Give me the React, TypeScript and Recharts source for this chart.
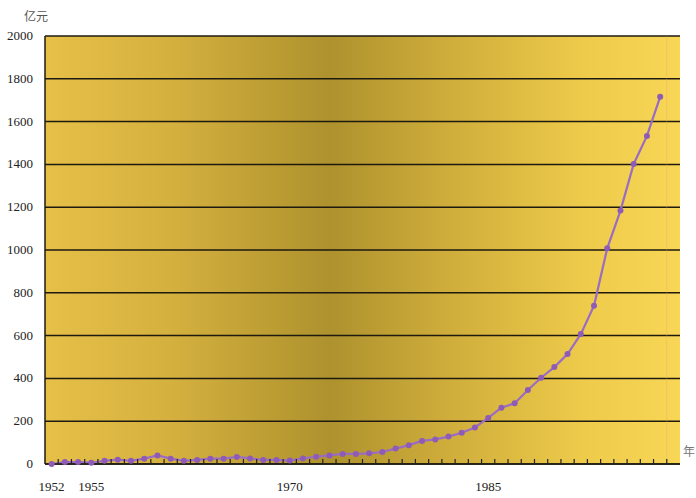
import React from "react";
import {
  LineChart,
  Line,
  XAxis,
  YAxis,
  CartesianGrid,
  ReferenceLine,
} from "recharts";

const years = [
  1952, 1953, 1954, 1955, 1956, 1957, 1958, 1959, 1960, 1961, 1962, 1963,
  1964, 1965, 1966, 1967, 1968, 1969, 1970, 1971, 1972, 1973, 1974, 1975,
  1976, 1977, 1978, 1979, 1980, 1981, 1982, 1983, 1984, 1985, 1986, 1987,
  1988, 1989, 1990, 1991, 1992, 1993, 1994, 1995, 1996, 1997, 1998,
];

const values = [
  0, 9, 9, 6, 15, 20, 15, 25, 40, 25, 15, 19, 25, 25, 33, 26, 19, 19, 16, 26,
  34, 40, 47, 47, 50, 56, 72, 88, 108, 115, 128, 146, 171, 215, 263, 284, 346,
  403, 453, 514, 607, 740, 1008, 1184, 1402, 1533, 1716,
];

const labelYears = [1952, 1955, 1970, 1985];
const yTicks = [0, 200, 400, 600, 800, 1000, 1200, 1400, 1600, 1800, 2000];

const data = years.map((year, i) => ({ year, value: values[i] }));

// tick marks sit between the yearly points
const boundaryTicks = years.map((y) => y + 0.5);
const xTicks = [...boundaryTicks, ...labelYears];

const serif = "'Liberation Serif', 'DejaVu Serif', serif";

function XTick(props: any) {
  const { x, y, payload } = props;
  if (labelYears.includes(payload.value)) {
    return (
      <text
        x={x}
        y={y + 27}
        textAnchor="middle"
        fontFamily={serif}
        fontSize={13}
        fill="#222"
      >
        {payload.value}
      </text>
    );
  }
  return <line x1={x} x2={x} y1={y} y2={y - 5} stroke="#222" strokeWidth={1.2} />;
}

function YTick(props: any) {
  const { x, y, payload } = props;
  return (
    <text
      x={x}
      y={y}
      dy={4}
      textAnchor="end"
      fontFamily={serif}
      fontSize={13}
      fill="#222"
    >
      {payload.value}
    </text>
  );
}

export default function App() {
  return (
    <div
      style={{
        position: "absolute",
        left: 0,
        top: 0,
        width: 696,
        height: 498,
        background: "#fff",
      }}
    >
      <LineChart
        width={696}
        height={498}
        data={data}
        margin={{ top: 36, right: 16, bottom: 4, left: 5 }}
      >
        <defs>
          <linearGradient id="goldH" x1="0" y1="0" x2="1" y2="0">
            <stop offset="0%" stopColor="#e6c048" />
            <stop offset="20%" stopColor="#d4b03e" />
            <stop offset="45%" stopColor="#ae922e" />
            <stop offset="62%" stopColor="#ccab3a" />
            <stop offset="85%" stopColor="#eecb4a" />
            <stop offset="100%" stopColor="#f8d656" />
          </linearGradient>
        </defs>
        <CartesianGrid
          vertical={false}
          stroke="#1e1a10"
          strokeWidth={1.5}
          fill="url(#goldH)"
          fillOpacity={1}
        />
        <XAxis
          dataKey="year"
          type="number"
          domain={[1951.5, 1999.5]}
          ticks={xTicks}
          interval={0}
          tick={<XTick />}
          tickLine={false}
          tickSize={0}
          tickMargin={0}
          height={30}
          axisLine={{ stroke: "#1e1a10", strokeWidth: 1.5 }}
        />
        <YAxis
          domain={[0, 2000]}
          ticks={yTicks}
          interval={0}
          width={40}
          tickLine={false}
          tickMargin={6}
          axisLine={{ stroke: "#1e1a10", strokeWidth: 1.5 }}
          tick={<YTick />}
        />
        <YAxis
          yAxisId="right"
          orientation="right"
          width={0}
          tick={false}
          tickLine={false}
          axisLine={{ stroke: "#1e1a10", strokeWidth: 1.5 }}
        />
        <ReferenceLine x={1998.5} stroke="#f2a070" strokeOpacity={0.35} />
        <Line
          type="linear"
          dataKey="value"
          stroke="#9a6cc4"
          strokeWidth={2.2}
          dot={{ r: 3, fill: "#8e5cb6", stroke: "none" }}
          isAnimationActive={false}
        />
      </LineChart>
      <div
        style={{
          position: "absolute",
          left: 24,
          top: 7,
          fontFamily: "'Noto Sans CJK SC', sans-serif",
          fontSize: 12,
          color: "#555",
        }}
      >
        亿元
      </div>
      <div
        style={{
          position: "absolute",
          left: 683,
          top: 442,
          fontFamily: "'Noto Sans CJK SC', sans-serif",
          fontSize: 12,
          color: "#777",
        }}
      >
        年
      </div>
    </div>
  );
}
